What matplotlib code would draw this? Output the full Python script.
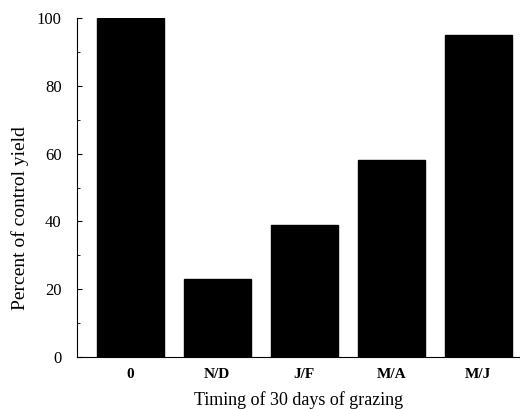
import matplotlib.pyplot as plt
from matplotlib.ticker import MultipleLocator

categories = ["0", "N/D", "J/F", "M/A", "M/J"]
yield_pct = [100, 23, 39, 58, 95]

plt.rcParams["font.family"] = ["Liberation Serif", "DejaVu Serif"]

fig = plt.figure(figsize=(5.2, 4.09), dpi=100)
ax = fig.add_axes([0.148, 0.127, 0.852, 0.829])

pos = list(range(len(categories)))
ax.bar(pos, yield_pct, width=0.77, color="black", edgecolor="black")

ax.set_xlim(-0.61, 4.48)
ax.set_ylim(0, 100)
ax.set_xticks(pos)
ax.set_xticklabels(categories, fontweight="bold", fontsize=11)
ax.tick_params(axis="x", length=0, pad=8)
ax.yaxis.set_major_locator(MultipleLocator(20))
ax.yaxis.set_minor_locator(MultipleLocator(10))
ax.tick_params(axis="y", which="major", direction="in", length=3.5, labelsize=12, pad=11)
ax.tick_params(axis="y", which="minor", direction="in", length=2.5)

for side in ("top", "right"):
    ax.spines[side].set_visible(False)
ax.spines["left"].set_linewidth(0.8)
ax.spines["bottom"].set_linewidth(0.8)

ax.set_ylabel("Percent of control yield", fontsize=14)
ax.yaxis.set_label_coords(-0.108, 0.41)
ax.set_xlabel("Timing of 30 days of grazing", fontsize=13, labelpad=7)

fig.savefig("out.png", dpi=100)
